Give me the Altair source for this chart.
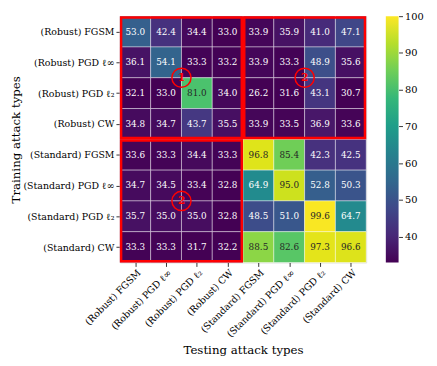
import json
import altair as alt
import pandas as pd

row_labels = ["(Robust) FGSM", "(Robust) PGD ℓ∞", "(Robust) PGD ℓ₂", "(Robust) CW",
              "(Standard) FGSM", "(Standard) PGD ℓ∞", "(Standard) PGD ℓ₂", "(Standard) CW"]
col_labels = row_labels

values = [
    [53.0, 42.4, 34.4, 33.0, 33.9, 35.9, 41.0, 47.1],
    [36.1, 54.1, 33.3, 33.2, 33.9, 33.3, 48.9, 35.6],
    [32.1, 33.0, 81.0, 34.0, 26.2, 31.6, 43.1, 30.7],
    [34.8, 34.7, 43.7, 35.5, 33.9, 33.5, 36.9, 33.6],
    [33.6, 33.3, 34.4, 33.3, 96.8, 85.4, 42.3, 42.5],
    [34.7, 34.5, 33.4, 32.8, 64.9, 95.0, 52.8, 50.3],
    [35.7, 35.0, 35.0, 32.8, 48.5, 51.0, 99.6, 64.7],
    [33.3, 33.3, 31.7, 32.2, 88.5, 82.6, 97.3, 96.6],
]

# highlighted blocks (top-left row/col index, block size)
box_rows = [0, 0, 4]
box_cols = [0, 4, 0]
box_size = 4

# circled markers at cell corners
mark_rows = [2, 2, 6]
mark_cols = [2, 6, 2]
mark_text = ["1", "2", "2"]

cbar_min, cbar_max = 33, 100
cbar_ticks = [40, 50, 60, 70, 80, 90, 100]

viridis = ["#440154", "#482878", "#3e4989", "#31688e", "#26828e",
           "#1f9e89", "#35b779", "#6ece58", "#b5de2b", "#fde725"]

FONT = "DejaVu Serif"
W, H = 251, 251

cells = pd.DataFrame([
    {"r": i, "c": j, "v": values[i][j]}
    for i in range(len(row_labels)) for j in range(len(col_labels))
])
boxes = pd.DataFrame({"r": box_rows, "c": box_cols})
marks = pd.DataFrame({"r": mark_rows, "c": mark_cols, "t": mark_text})

n = len(row_labels)
xscale = alt.Scale(domain=[0, n], nice=False, zero=False)
yscale = alt.Scale(domain=[0, n], nice=False, zero=False, reverse=True)
ticks = [k + 0.5 for k in range(n)]

def label_expr(labels):
    return json.dumps(labels, ensure_ascii=False) + "[floor(datum.value)]"

common = dict(labelFontSize=9.6, labelFont=FONT, titleFont=FONT, titleFontSize=12,
              titleFontWeight="normal", titleColor="black", grid=False, domain=False,
              tickColor="black", tickSize=4, tickWidth=0.8, labelColor="black",
              labelOverlap=False, labelBound=False, labelFlush=False)
x_axis = alt.Axis(values=ticks, labelExpr=label_expr(col_labels), labelAngle=-45,
                  title="Testing attack types", titlePadding=6, labelPadding=1, **common)
y_axis = alt.Axis(values=ticks, labelExpr=label_expr(row_labels),
                  title="Training attack types", titlePadding=0, labelPadding=2, **common)

base = alt.Chart(cells).transform_calculate(r2="datum.r + 1", c2="datum.c + 1",
                                             cx="datum.c + 0.5", cy="datum.r + 0.5")

heat = base.mark_rect(stroke="white", strokeWidth=0.6, strokeOpacity=0.7).encode(
    x=alt.X("c:Q", scale=xscale, axis=x_axis),
    x2="c2:Q",
    y=alt.Y("r:Q", scale=yscale, axis=y_axis),
    y2="r2:Q",
    color=alt.Color("v:Q", scale=alt.Scale(scheme="viridis", domain=[cbar_min, cbar_max], clamp=True),
                    legend=None),
)

txt = base.mark_text(font=FONT, fontSize=9).encode(
    x=alt.X("cx:Q", axis=x_axis), y=alt.Y("cy:Q", axis=y_axis),
    text=alt.Text("v:Q", format=".1f"),
    color=alt.condition("datum.v > 70", alt.value("#262626"), alt.value("white")),
)

inset = 0.04
box = alt.Chart(boxes).transform_calculate(
    x1=f"datum.c + {inset}", x2=f"datum.c + {box_size} - {inset}",
    y1=f"datum.r + {inset}", y2=f"datum.r + {box_size} - {inset}",
).mark_rect(fillOpacity=0, stroke="#ff0000", strokeWidth=2.5).encode(
    x=alt.X("x1:Q", axis=x_axis), x2="x2:Q", y=alt.Y("y1:Q", axis=y_axis), y2="y2:Q")

circ = alt.Chart(marks).mark_point(shape="circle", size=380, filled=False, color="#ff0000",
                                   strokeWidth=1.5, opacity=1).encode(
    x=alt.X("c:Q", axis=x_axis), y=alt.Y("r:Q", axis=y_axis))
circ_t = alt.Chart(marks).mark_text(font=FONT, fontSize=11, fontWeight="bold", color="#ff0000").encode(
    x=alt.X("c:Q", axis=x_axis), y=alt.Y("r:Q", axis=y_axis), text="t:N")

main = alt.layer(heat, txt, box, circ, circ_t)

grad = alt.LinearGradient(
    gradient="linear",
    stops=[alt.GradientStop(offset=k / (len(viridis) - 1), color=c) for k, c in enumerate(viridis)],
    x1=0, x2=0, y1=1, y2=0,
)
cb_df = pd.DataFrame({"lo": [cbar_min], "hi": [cbar_max]})
cb_left, cb_right = 271, 284
cbar = alt.Chart(cb_df).mark_rect(color=grad).encode(
    x=alt.value(cb_left), x2=alt.value(cb_right),
    y=alt.Y("lo:Q", scale=alt.Scale(domain=[cbar_min, cbar_max], nice=False, zero=False),
            axis=alt.Axis(orient="right", values=cbar_ticks, title=None, grid=False, domain=False,
                          labelFont=FONT, labelFontSize=10, tickColor="black", tickSize=4,
                          tickWidth=0.8, labelColor="black", labelPadding=2,
                          offset=cb_right - W)),
    y2="hi:Q",
)

PL, PT = 114, 5
chart = alt.layer(main, cbar).resolve_scale(y="independent").properties(
    width=W, height=H,
    autosize=alt.AutoSizeParams(type="none"),
    padding={"left": PL, "top": PT, "right": 437 - 8 - PL - W, "bottom": 366 - 16 - PT - H},
).configure_view(stroke=None).configure(font=FONT).configure_axis(labelOverlap=False)

chart.save("out.html", embed_options={"renderer": "svg", "actions": False})
